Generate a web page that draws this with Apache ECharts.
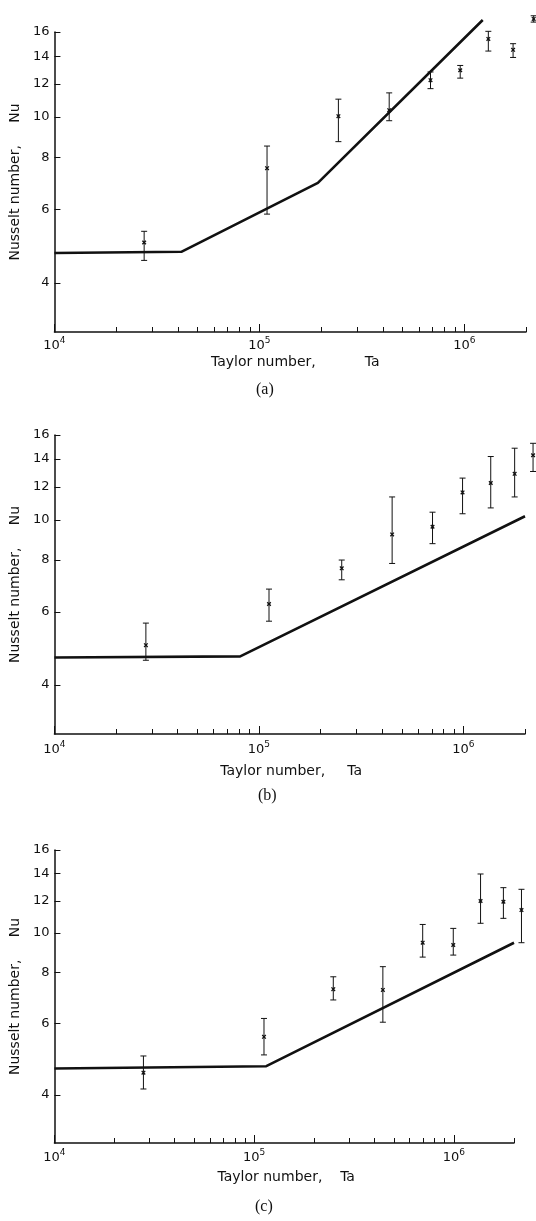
<!DOCTYPE html>
<html>
<head>
<meta charset="utf-8">
<script src="https://cdn.jsdelivr.net/npm/echarts@6/dist/echarts.min.js"></script>
<style>
  html, body { margin: 0; padding: 0; background: #fff; }
  #main { width: 536px; height: 1221px; }
</style>
</head>
<body>
<div id="main"></div>
<script>
// tick marks / labels
var X_DECADES = [4, 5, 6];               // 10^4 .. 10^6
var X_MINOR = [2, 3, 4, 5, 6, 7, 8, 9];  // minor ticks inside each decade
var X_MAX = 2e6;
var Y_TICKS = [4, 6, 8, 10, 12, 14, 16];
var Y_MIN = 3.05, Y_MAX = 16;

// (a) measured Nu with error bars
var A_TA = [2.74e4, 1.09e5, 2.43e5, 4.3e5, 6.84e5, 9.55e5, 1.31e6, 1.73e6, 2.18e6];
var A_NU = [5.0, 7.54, 10.05, 10.39, 12.26, 12.95, 15.4, 14.5, 17.2];
var A_LO = [4.53, 5.85, 8.73, 9.8, 11.7, 12.4, 14.4, 13.9, 16.9];
var A_HI = [5.32, 8.52, 11.04, 11.43, 12.83, 13.3, 16.06, 15.0, 17.5];
// (a) theory line
var A_LINE_TA = [1e4, 4.16e4, 1.93e5, 1.23e6];
var A_LINE_NU = [4.72, 4.75, 6.95, 17.1];

// (b)
var B_TA = [2.8e4, 1.12e5, 2.54e5, 4.48e5, 7.06e5, 9.9e5, 1.36e6, 1.78e6, 2.19e6];
var B_NU = [4.99, 6.27, 7.64, 9.22, 9.62, 11.64, 12.26, 12.9, 14.3];
var B_LO = [4.59, 5.7, 7.17, 7.85, 8.76, 10.34, 10.68, 11.35, 13.07];
var B_HI = [5.64, 6.81, 8.0, 11.35, 10.43, 12.6, 14.2, 14.87, 15.28];
var B_LINE_TA = [1e4, 8.1e4, 2e6];
var B_LINE_NU = [4.66, 4.69, 10.2];

// (c)
var C_TA = [2.79e4, 1.12e5, 2.49e5, 4.41e5, 6.98e5, 9.93e5, 1.36e6, 1.77e6, 2.18e6];
var C_NU = [4.54, 5.56, 7.28, 7.25, 9.47, 9.35, 11.99, 11.94, 11.39];
var C_LO = [4.14, 5.02, 6.85, 6.04, 8.73, 8.83, 10.57, 10.87, 9.47];
var C_HI = [4.99, 6.17, 7.81, 8.27, 10.5, 10.27, 13.97, 12.93, 12.81];
var C_LINE_TA = [1e4, 1.15e5, 2e6];
var C_LINE_NU = [4.65, 4.71, 9.47];

var INK = '#111';
var FONT = 'DejaVu Sans';
var lg = Math.log10;

// layout of the three panels
var panels = [
  {ta: A_TA, nu: A_NU, lo: A_LO, hi: A_HI, lta: A_LINE_TA, lnu: A_LINE_NU,
   grid: {left: 48, top: 32, width: 478, height: 300}, lblMargin: 4, nameGap: 23, namePad: [0, 0, 0, 10],
   xname: 'Taylor number,           Ta', cap: '(a)', capY: 391, capX: 268},
  {ta: B_TA, nu: B_NU, lo: B_LO, hi: B_HI, lta: B_LINE_TA, lnu: B_LINE_NU,
   grid: {left: 46, top: 435, width: 479, height: 299}, lblMargin: 6, nameGap: 30, namePad: [0, 0, 0, 3],
   xname: 'Taylor number,     Ta', cap: '(b)', capY: 797, capX: 270},
  {ta: C_TA, nu: C_NU, lo: C_LO, hi: C_HI, lta: C_LINE_TA, lnu: C_LINE_NU,
   grid: {left: 47, top: 850, width: 467, height: 293}, lblMargin: 5, nameGap: 27, namePad: [0, 0, 0, 4],
   xname: 'Taylor number,    Ta', cap: '(c)', capY: 1208, capX: 267}
];

var minorTicks = [];
X_DECADES.forEach(function (d) {
  X_MINOR.forEach(function (m) {
    var v = m * Math.pow(10, d);
    if (v <= X_MAX) minorTicks.push(lg(v));
  });
});

// error bar with caps and a small x at the centre
function renderErr(params, api) {
  var x = api.value(0);
  var pLo = api.coord([x, api.value(1)]);
  var pHi = api.coord([x, api.value(2)]);
  var pC = api.coord([x, api.value(3)]);
  var w = 3, m = 1.8;
  var st = {stroke: INK, lineWidth: 1};
  return {
    type: 'group',
    children: [
      {type: 'line', shape: {x1: pLo[0], y1: pLo[1], x2: pHi[0], y2: pHi[1]}, style: st},
      {type: 'line', shape: {x1: pLo[0] - w, y1: pLo[1], x2: pLo[0] + w, y2: pLo[1]}, style: st},
      {type: 'line', shape: {x1: pHi[0] - w, y1: pHi[1], x2: pHi[0] + w, y2: pHi[1]}, style: st},
      {type: 'line', shape: {x1: pC[0] - m, y1: pC[1] - m, x2: pC[0] + m, y2: pC[1] + m}, style: {stroke: INK, lineWidth: 1.3}},
      {type: 'line', shape: {x1: pC[0] - m, y1: pC[1] + m, x2: pC[0] + m, y2: pC[1] - m}, style: {stroke: INK, lineWidth: 1.3}}
    ]
  };
}

var grids = [], xAxes = [], yAxes = [], series = [], graphics = [];

panels.forEach(function (p, i) {
  grids.push(p.grid);

  // main x axis: line, minor ticks, 10^n labels
  xAxes.push({
    type: 'value', gridIndex: i, position: 'bottom',
    min: 4, max: lg(X_MAX),
    name: p.xname, nameLocation: 'middle', nameGap: p.nameGap,
    nameTextStyle: {fontFamily: FONT, fontSize: 14, color: INK, padding: p.namePad},
    axisLine: {onZero: false, lineStyle: {color: INK, width: 1.5}},
    axisTick: {inside: true, length: 5, customValues: minorTicks, lineStyle: {color: INK}},
    axisLabel: {
      customValues: X_DECADES, margin: p.lblMargin,
      formatter: function (v) { return '{b|10}{s|' + Math.round(v) + '}'; },
      rich: {
        b: {fontFamily: FONT, fontSize: 13, color: INK, lineHeight: 20},
        s: {fontFamily: FONT, fontSize: 9, color: INK, lineHeight: 10, verticalAlign: 'top'}
      }
    },
    splitLine: {show: false}
  });
  // second x axis only for the longer decade ticks
  xAxes.push({
    type: 'value', gridIndex: i, position: 'bottom', offset: 0,
    min: 4, max: lg(X_MAX),
    axisLine: {show: false, onZero: false},
    axisTick: {inside: true, length: 8, customValues: X_DECADES, lineStyle: {color: INK}},
    axisLabel: {show: false},
    splitLine: {show: false}
  });

  yAxes.push({
    type: 'value', gridIndex: i,
    min: lg(Y_MIN), max: lg(Y_MAX),
    name: 'Nusselt number,     Nu', nameLocation: 'middle', nameGap: 20,
    nameTextStyle: {fontFamily: FONT, fontSize: 14, color: INK},
    axisLine: {onZero: false, lineStyle: {color: INK, width: 1.5}},
    axisTick: {inside: true, length: 6, customValues: Y_TICKS.map(lg), lineStyle: {color: INK}},
    axisLabel: {
      customValues: Y_TICKS.map(lg), margin: 5,
      fontFamily: FONT, fontSize: 13, color: INK,
      formatter: function (v) { return String(Math.round(Math.pow(10, v))); }
    },
    splitLine: {show: false}
  });

  series.push({
    type: 'line', xAxisIndex: i * 2, yAxisIndex: i,
    data: p.lta.map(function (t, k) { return [lg(t), lg(p.lnu[k])]; }),
    symbol: 'none', clip: false, silent: true,
    lineStyle: {color: INK, width: 2.6}
  });

  series.push({
    type: 'custom', xAxisIndex: i * 2, yAxisIndex: i,
    renderItem: renderErr, clip: false, silent: true,
    encode: {x: 0, y: [1, 2, 3]},
    data: p.ta.map(function (t, k) { return [lg(t), lg(p.lo[k]), lg(p.hi[k]), lg(p.nu[k])]; })
  });

  graphics.push({
    type: 'text', left: p.capX - 12, top: p.capY - 9,
    style: {text: p.cap, font: '16px "Liberation Serif"', fill: INK}
  });
});

var myChart = echarts.init(document.getElementById('main'), null, {renderer: 'canvas'});
myChart.setOption({
  animation: false,
  backgroundColor: '#fff',
  grid: grids,
  xAxis: xAxes,
  yAxis: yAxes,
  series: series,
  graphic: graphics
});
</script>
</body>
</html>
